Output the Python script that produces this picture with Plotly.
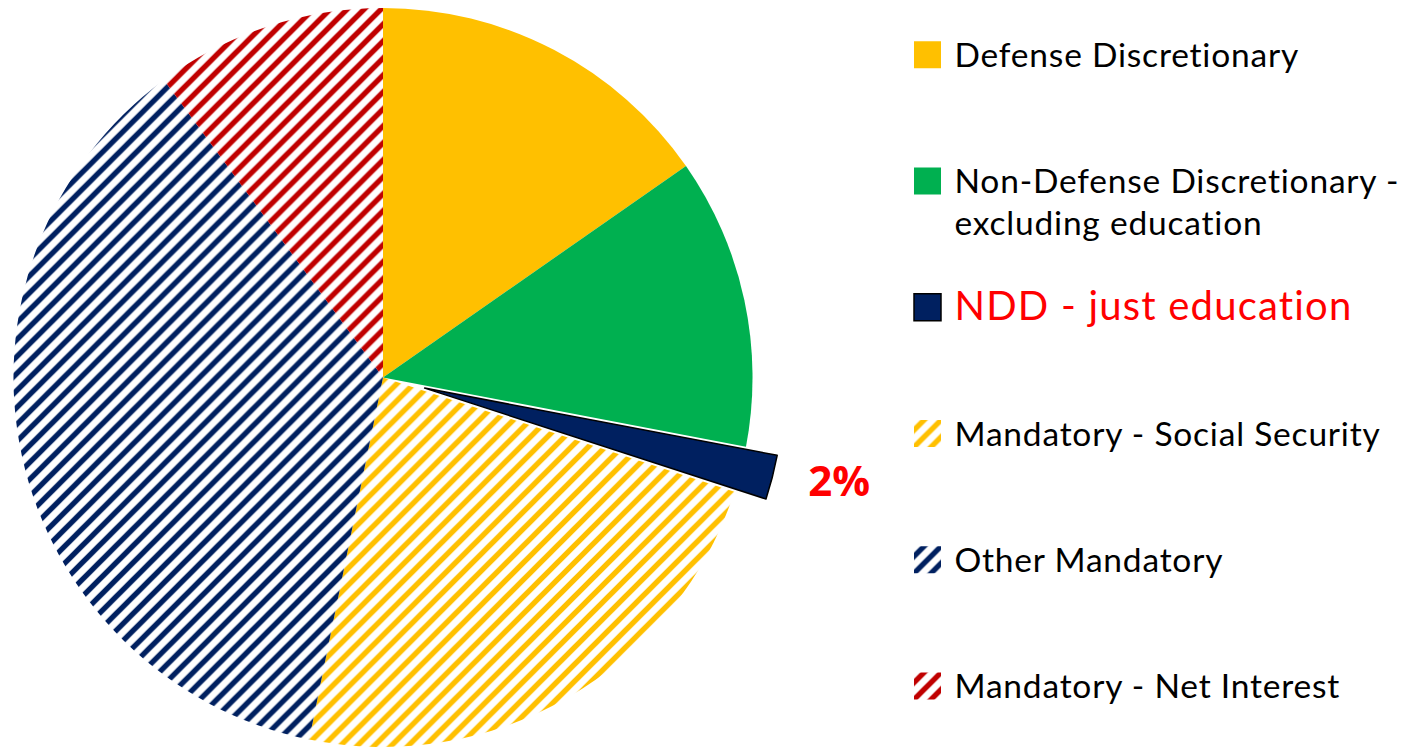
import math

import plotly.graph_objects as go

labels = [
    "Defense Discretionary",
    "Non-Defense Discretionary -<br>excluding education",
    "NDD - just education",
    "Mandatory - Social Security",
    "Other Mandatory",
    "Mandatory - Net Interest",
]
shares = [15.3, 12.7, 2.0, 23.2, 36.7, 10.1]
colors = ["#FFC000", "#00B050", "#002060", "#FFC000", "#002060", "#C00000"]
hatched = [False, False, False, True, True, True]
highlight = 2  # index of the exploded slice

W, H = 1414, 752
CX, CY, R = 383, 380, 372
PULL = 43
CLEAR = "rgba(0,0,0,0)"
FONT = "Lato"


def _domain(cx, cy, r):
    return {"x": [(cx - r) / W, (cx + r) / W], "y": [(H - cy - r) / H, (H - cy + r) / H]}


def _legend_label(i, lab):
    n_lines = lab.count("<br>") + 1
    if i == highlight:
        style = "color:#FF0000;font-size:40px;letter-spacing:1.2px"
    else:
        style = "font-size:33.5px;letter-spacing:0.8px"
    lab = "<br>".join(f"<span style='{style}'>{part}</span>" for part in lab.split("<br>"))
    # pad to three lines so entries sit ~126px apart (last one needs no padding)
    pad = 0 if i == len(labels) - 1 else 3 - n_lines
    return lab + "<br> " * pad


pattern = {
    "shape": ["/" if h else "" for h in hatched],
    "fgcolor": colors,
    "bgcolor": ["white" if h else c for h, c in zip(hatched, colors)],
    "size": 12,
    "solidity": 0.45,
}

# direction of the exploded slice
total = sum(shares)
mid = (sum(shares[:highlight]) + shares[highlight] / 2) / total * 2 * math.pi
ex_cx = CX + PULL * math.sin(mid)
ex_cy = CY - PULL * math.cos(mid)
ex_r = min(R, H - ex_cy, ex_cy)

legend_labels = [_legend_label(i, lab) for i, lab in enumerate(labels)]
common = dict(
    labels=legend_labels,
    values=shares,
    sort=False,
    direction="clockwise",
    hoverinfo="skip",
)
edge = {"color": "black", "width": [1.5 if i == highlight else 0 for i in range(len(shares))]}

fig = go.Figure()

# legend carrier (tiny, hidden under the main pie)
fig.add_trace(
    go.Pie(
        **common,
        marker={"colors": colors, "pattern": pattern, "line": edge},
        textinfo="none",
        domain={"x": [200 / W, 200.4 / W], "y": [0.45, 0.4505]},
        showlegend=True,
    )
)

# main pie, exploded slice left empty
fig.add_trace(
    go.Pie(
        **common,
        marker={
            "colors": [CLEAR if i == highlight else c for i, c in enumerate(colors)],
            "pattern": pattern,
            "line": {"width": 0},
        },
        textinfo="none",
        domain=_domain(CX, CY, R),
        showlegend=False,
    )
)

# exploded slice
fig.add_trace(
    go.Pie(
        **common,
        marker={
            "colors": [c if i == highlight else CLEAR for i, c in enumerate(colors)],
            "line": edge,
        },
        texttemplate=["  <b>%{percent:.0%}</b>" if i == highlight else "" for i in range(len(shares))],
        textposition=["outside" if i == highlight else "none" for i in range(len(shares))],
        textfont={"family": "Open Sans", "size": 42, "color": "#FF0000"},
        domain=_domain(ex_cx, ex_cy, ex_r),
        showlegend=False,
    )
)

fig.update_layout(
    width=W,
    height=H,
    margin={"l": 0, "r": 0, "t": 0, "b": 0},
    paper_bgcolor="white",
    plot_bgcolor="white",
    font={"family": FONT, "color": "black"},
    legend={
        "x": 900.5 / W,
        "y": 1 - 28 / H,
        "xanchor": "left",
        "yanchor": "top",
        "valign": "top",
        "itemwidth": 44,
        "font": {"family": FONT, "size": 31.6, "color": "black"},
        "bgcolor": CLEAR,
        "itemclick": False,
        "itemdoubleclick": False,
    },
)

# no page margin, and bigger legend swatches like the original
page_fix = """
document.body.style.margin = '0';
var gd = document.getElementById('{plot_id}');
function grow() {
  gd.querySelectorAll('path.legendpie').forEach(function (p) {
    p.setAttribute('d', 'M13.5,13.5H-13.5V-13.5H13.5Z');
  });
}
grow();
gd.on('plotly_afterplot', grow);
"""

fig.write_html("out.html", post_script=page_fix, config={"displayModeBar": False})
